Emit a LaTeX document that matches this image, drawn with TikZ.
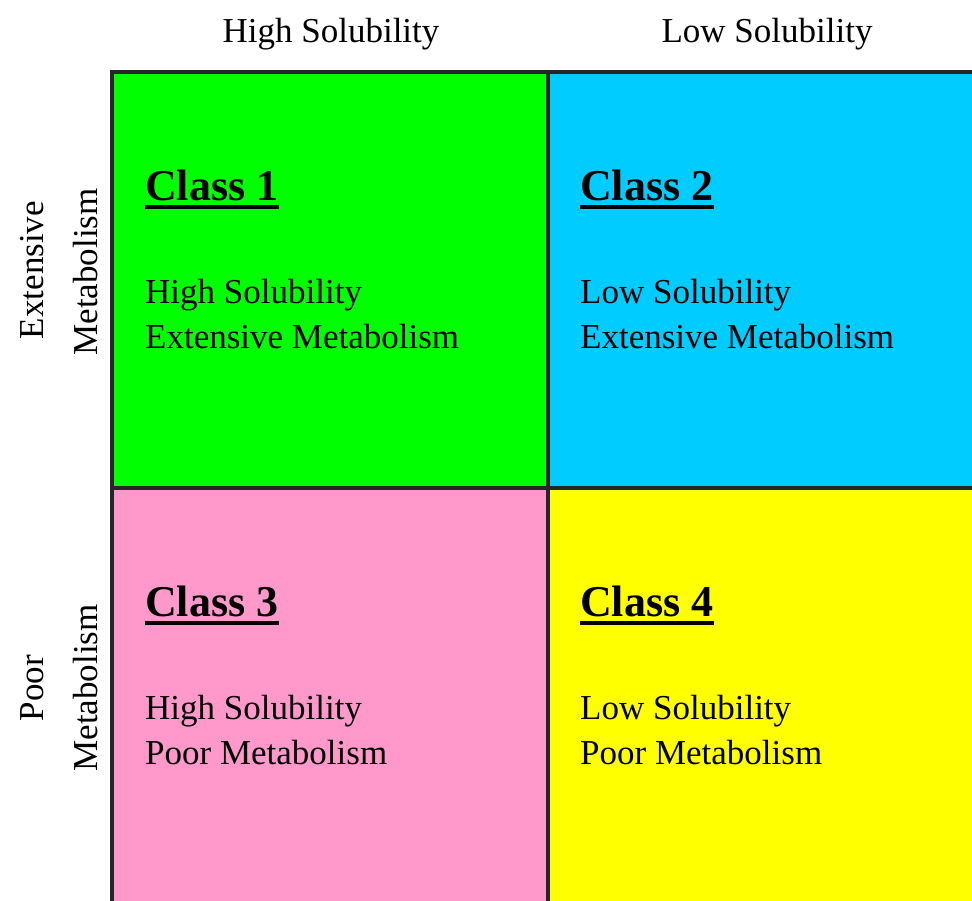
\documentclass[tikz,border=0pt]{standalone}
\usepackage{fontspec}
\setmainfont{Liberation Serif}
\usetikzlibrary{positioning,calc}
\definecolor{classgreen}{RGB}{0,255,0}
\definecolor{classcyan}{RGB}{0,204,255}
\definecolor{classpink}{RGB}{255,153,204}
\definecolor{classyellow}{RGB}{255,255,0}
\tikzset{
  cell/.style={draw=black!85, line width=3.2pt, minimum width=436pt, minimum height=416pt, inner sep=0pt},
  head/.style={font=\fontsize{44}{50}\selectfont\bfseries, inner sep=0pt, anchor=base west},
  body/.style={font=\fontsize{35}{45}\selectfont, inner sep=0pt, anchor=base west},
  axis/.style={font=\fontsize{35}{45}\selectfont, inner sep=0pt, anchor=base},
  uline/.style={line width=3.5pt}
}
\begin{document}
\begin{tikzpicture}[x=1pt,y=-1pt]
			\useasboundingbox (0,0) rectangle (972,900);
			\clip (0,0) rectangle (972,900);
			%cells
			\node[cell, fill=classgreen](c1) at (330,280){};
			\node[cell, fill=classcyan](c2) at (766,280){};
			\node[cell, fill=classpink](c3) at (330,696){};
			\node[cell, fill=classyellow](c4) at (766,696){};
			%top labels
			\node[axis](hs) at (331,42){High Solubility};
			\node[axis](ls) at (767,42){Low Solubility};
			%left labels
			\node[axis, rotate=90](em1) at (43,270){Extensive};
			\node[axis, rotate=90](em2) at (97,272){Metabolism};
			\node[axis, rotate=90](pm1) at (43,688){Poor};
			\node[axis, rotate=90](pm2) at (97,688){Metabolism};
			%class 1
			\node[head](t1) at (145,200){Class 1};
			\draw[uline] ($(t1.base west)+(0,7)$) -- ($(t1.base east)+(0,7)$);
			\node[body](a1) at (145,303){High Solubility};
			\node[body](b1) at (145,348){Extensive Metabolism};
			%class 2
			\node[head](t2) at (580,200){Class 2};
			\draw[uline] ($(t2.base west)+(0,7)$) -- ($(t2.base east)+(0,7)$);
			\node[body](a2) at (580,303){Low Solubility};
			\node[body](b2) at (580,348){Extensive Metabolism};
			%class 3
			\node[head](t3) at (145,616){Class 3};
			\draw[uline] ($(t3.base west)+(0,7)$) -- ($(t3.base east)+(0,7)$);
			\node[body](a3) at (145,719){High Solubility};
			\node[body](b3) at (145,764){Poor Metabolism};
			%class 4
			\node[head](t4) at (580,616){Class 4};
			\draw[uline] ($(t4.base west)+(0,7)$) -- ($(t4.base east)+(0,7)$);
			\node[body](a4) at (580,719){Low Solubility};
			\node[body](b4) at (580,764){Poor Metabolism};
			\end{tikzpicture}
\end{document}
